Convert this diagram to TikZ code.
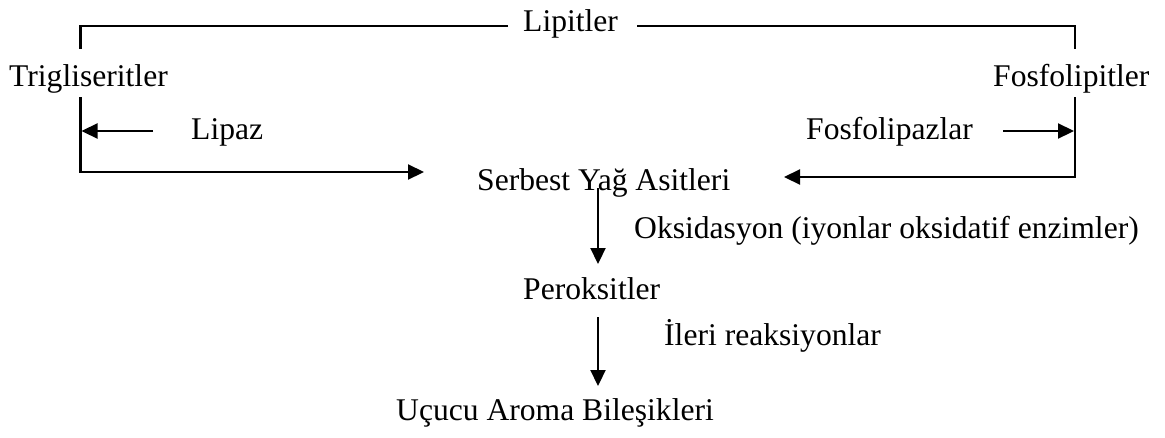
\documentclass[tikz,border=0pt]{standalone}
\usepackage{fontspec}
\setmainfont{Liberation Serif}
\usetikzlibrary{arrows.meta}
\tikzset{
  lbl/.style={anchor=base west, inner sep=0pt, font=\fontsize{31.6}{36}\selectfont},
  ln/.style={line width=2.2pt},
  arr/.style={line width=2.2pt, -{Triangle[length=16pt,width=15pt]}}
}
\begin{document}
\begin{tikzpicture}[x=1pt,y=-1pt]
\useasboundingbox (0,0) rectangle (1165,437);
% labels
\node[lbl] (lip) at (523,31) {Lipitler};
\node[lbl] (tri) at (9,86) {Trigliseritler};
\node[lbl] (fos) at (993,86) {Fosfolipitler};
\node[lbl] (lipaz) at (191,139) {Lipaz};
\node[lbl] (fosaz) at (806,139) {Fosfolipazlar};
\node[lbl] (sya) at (477,190) {Serbest Yağ Asitleri};
\node[lbl] (oks) at (634,238) {Oksidasyon (iyonlar oksidatif enzimler)};
\node[lbl] (per) at (523,299) {Peroksitler};
\node[lbl] (ile) at (664,345) {İleri reaksiyonlar};
\node[lbl] (ucu) at (396,420) {Uçucu Aroma Bileşikleri};
% coordinates
\coordinate (tlL) at (508,26);
\coordinate (tlR) at (637,26);
\coordinate (cL) at (80.5,26);
\coordinate (cR) at (1075,26);
\coordinate (vL1) at (80.5,49);
\coordinate (vR1) at (1075,49);
\coordinate (vL2) at (80.5,97);
\coordinate (vR2) at (1075,97);
\coordinate (bL) at (80.5,172);
\coordinate (bR) at (1075,177);
\coordinate (aL) at (424,172);
\coordinate (aR) at (784,177);
\coordinate (lpS) at (153,131);
\coordinate (lpE) at (81.5,131);
\coordinate (fpS) at (1003,131);
\coordinate (fpE) at (1074,131);
\coordinate (d1S) at (598,188);
\coordinate (d1E) at (598,264);
\coordinate (d2S) at (598,317);
\coordinate (d2E) at (598,386);
% lines
\draw[ln] (tlL) -- (cL) -- (vL1);
\draw[ln] (tlR) -- (cR) -- (vR1);
\draw[arr] (vL2) -- (bL) -- (aL);
\draw[arr] (vR2) -- (bR) -- (aR);
\draw[arr] (lpS) -- (lpE);
\draw[arr] (fpS) -- (fpE);
\draw[arr] (d1S) -- (d1E);
\draw[arr] (d2S) -- (d2E);
\end{tikzpicture}
\end{document}
